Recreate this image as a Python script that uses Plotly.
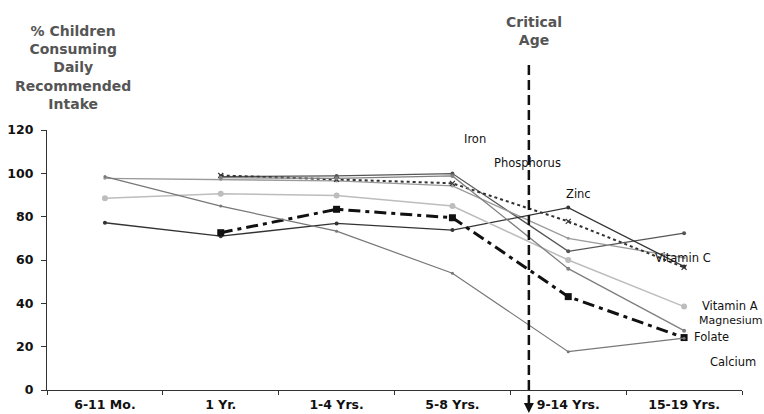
import plotly.graph_objects as go

categories = ["6-11 Mo.", "1 Yr.", "1-4 Yrs.", "5-8 Yrs.", "9-14 Yrs.", "15-19 Yrs."]
y_ticks = [0, 20, 40, 60, 80, 100, 120]

iron = [None, 98.5, 98.8, 99.9, 64.0, 72.4]
phosphorus = [97.7, 97.2, 96.5, 94.2, 70.0, 61.0]
zinc = [77.2, 71.0, 76.9, 73.8, 84.2, 57.0]
vitamin_c = [None, 99.0, 97.2, 95.4, 77.8, 56.6]
vitamin_a = [88.5, 90.6, 89.8, 84.9, 60.0, 38.5]
magnesium = [None, 98.0, 97.7, 98.8, 56.0, 27.4]
folate = [None, 72.6, 83.4, 79.5, 43.1, 24.2]
calcium = [98.5, 84.9, 73.3, 53.9, 17.7, 23.9]

# label text, x (category index, left edge), y (value), font size
label_names = ["Iron", "Phosphorus", "Zinc", "Vitamin C", "Vitamin A", "Magnesium", "Folate", "Calcium"]
label_x = [3.08, 3.34, 3.96, 4.73, 5.135, 5.11, 5.065, 5.205]
label_y = [116, 105, 90.3, 60.9, 39, 31.9, 24.3, 13]
label_size = [11.5, 11.5, 11.5, 11.5, 11.5, 11, 11.5, 11.5]

critical_x = 3.66

series = [
    ("Iron", iron, dict(color="#555555", width=1.3), dict(symbol="circle", size=4, color="#555555")),
    ("Phosphorus", phosphorus, dict(color="#9a9a9a", width=1.3), dict(symbol="circle", size=3, color="#9a9a9a")),
    ("Zinc", zinc, dict(color="#333333", width=1.3), dict(symbol="circle", size=4, color="#333333")),
    ("Vitamin C", vitamin_c, dict(color="#333333", width=2, dash="3px,3px"), dict(symbol="x-thin", size=5, color="#333333", line=dict(width=1.2, color="#333333"))),
    ("Vitamin A", vitamin_a, dict(color="#bdbdbd", width=1.5), dict(symbol="circle", size=6, color="#bdbdbd")),
    ("Magnesium", magnesium, dict(color="#7f7f7f", width=1.3), dict(symbol="circle", size=4, color="#7f7f7f")),
    ("Folate", folate, dict(color="#111111", width=3, dash="12px,5px,4px,5px"), dict(symbol="square", size=7, color="#111111")),
    ("Calcium", calcium, dict(color="#777777", width=1.2), dict(symbol="circle", size=3, color="#777777")),
]

fig = go.Figure()
for name, vals, ln, mk in series:
    fig.add_trace(go.Scatter(x=categories, y=vals, mode="lines+markers", name=name,
                             line=ln, marker=mk, showlegend=False, cliponaxis=False))

annotations = []
for t, lx, ly, ls in zip(label_names, label_x, label_y, label_size):
    annotations.append(dict(x=lx, y=ly, xref="x", yref="y", text=t, showarrow=False,
                            xanchor="left", yanchor="middle",
                            font=dict(family="DejaVu Sans", size=ls, color="#111111")))

annotations.append(dict(x=0.037, y=1.24, xref="paper", yref="paper",
                        text="% Children<br>Consuming<br>Daily<br>Recommended<br>Intake",
                        showarrow=False, align="center", xanchor="center", yanchor="middle",
                        font=dict(family="DejaVu Sans", size=14, color="#555555", weight="bold")))
annotations.append(dict(x=0.7007, y=1.38, xref="paper", yref="paper",
                        text="Critical<br>Age", showarrow=False, align="center",
                        xanchor="center", yanchor="middle",
                        font=dict(family="DejaVu Sans", size=14, color="#555555", weight="bold")))
annotations.append(dict(x=critical_x, y=-0.088, xref="x", yref="paper", text="",
                        showarrow=True, ax=0, ay=-12, arrowhead=2, arrowsize=1,
                        arrowwidth=2, arrowcolor="#111111"))

fig.add_shape(type="line", xref="x", yref="paper", x0=critical_x, x1=critical_x,
              y0=1.25, y1=-0.06, line=dict(color="#111111", width=2.5, dash="10px,5px"))

fig.update_layout(
    width=764, height=414,
    margin=dict(l=47, r=22, t=130, b=24, autoexpand=False),
    paper_bgcolor="white", plot_bgcolor="white",
    annotations=annotations,
    font=dict(family="DejaVu Sans", color="#111111"),
)
fig.update_xaxes(type="category", categoryorder="array", categoryarray=categories,
                 range=[-0.5, 5.5], showline=True, linecolor="#333333", linewidth=1.3,
                 ticks="outside", tickson="boundaries", ticklen=4, tickcolor="#333333",
                 showgrid=False, zeroline=False, ticklabelstandoff=3,
                 tickfont=dict(family="DejaVu Sans", size=12.5, color="#111111", weight="bold"))
fig.update_yaxes(range=[0, 120], tickvals=y_ticks, showline=True, linecolor="#333333",
                 linewidth=1.3, ticks="outside", ticklen=5, tickcolor="#333333",
                 showgrid=False, zeroline=False, ticklabelstandoff=5,
                 tickfont=dict(family="DejaVu Sans", size=12.5, color="#111111", weight="bold"))

fig.write_html("out.html", config={"displayModeBar": False},
               post_script="document.body.style.margin='0';document.body.style.overflow='hidden';")
